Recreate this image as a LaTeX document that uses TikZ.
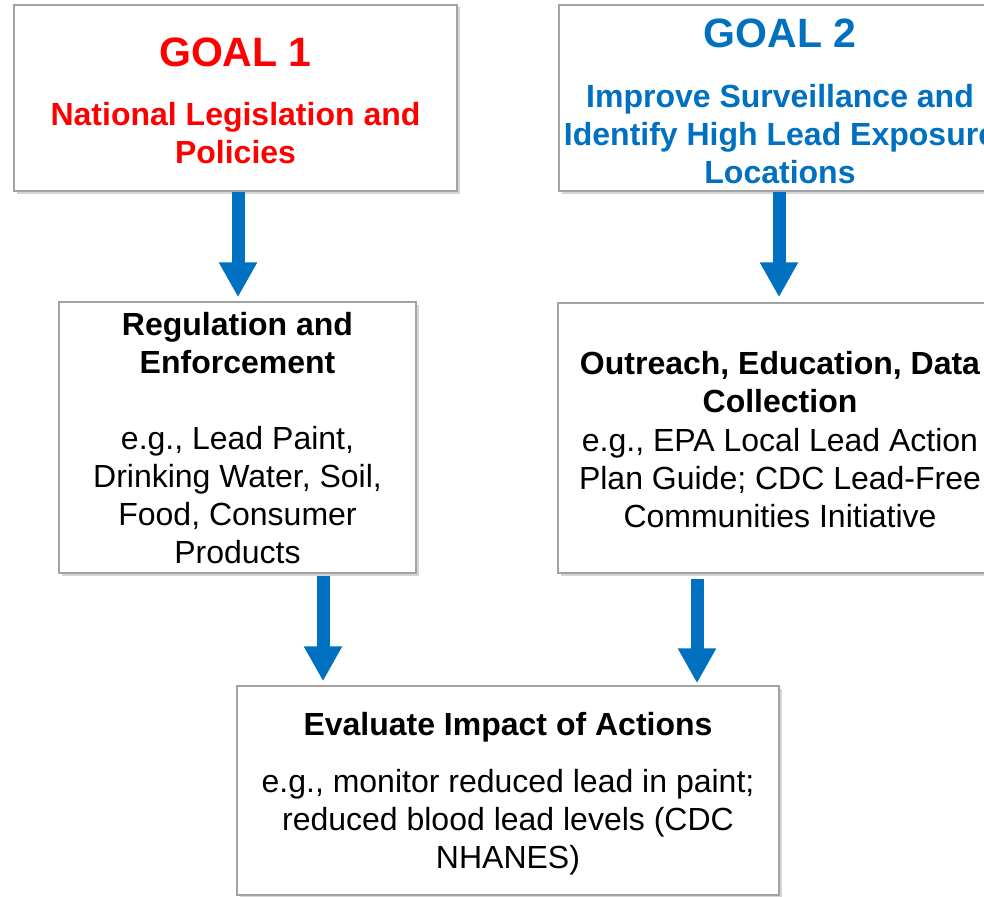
\documentclass[tikz,border=0pt]{standalone}
\usepackage{fontspec}
\setmainfont{Liberation Sans}
\usetikzlibrary{arrows.meta,shadows}

\definecolor{goalred}{HTML}{FF0000}
\definecolor{goalblue}{HTML}{0070C0}
\definecolor{boxgray}{HTML}{A3A3A3}

\tikzset{
  panel/.style={draw=boxgray, line width=1.5pt, fill=white, rectangle, inner sep=0pt,
    drop shadow={shadow xshift=2.5pt, shadow yshift=-2.5pt, opacity=0.3, fill=black!55}},
  goaltitle/.style={anchor=base, inner sep=0pt, font=\fontsize{41}{48}\selectfont\bfseries},
  % multi-line texts are placed by the baseline of their last line
  headtext/.style={anchor=base, inner sep=0pt, align=center, font=\fontsize{32}{38}\selectfont\bfseries},
  bodytext/.style={anchor=base, inner sep=0pt, align=center, font=\fontsize{32}{38}\selectfont},
  blockarrow/.style={draw=goalblue, line width=13pt,
    -{Triangle[width=36pt, length=35pt, fill=goalblue]}}
}

\begin{document}
\begin{tikzpicture}[x=1pt, y=-1pt]
  \useasboundingbox (0,0) rectangle (984,896);
  \clip (0,0) rectangle (984,896);

  % boxes
  \node[panel, minimum width=443pt, minimum height=186pt] (g1) at (235.5,98) {};
  \node[panel, minimum width=442pt, minimum height=186pt] (g2) at (780,98) {};
  \node[panel, minimum width=357pt, minimum height=271pt] (reg) at (237.5,437.5) {};
  \node[panel, minimum width=444pt, minimum height=270pt] (out) at (780,438) {};
  \node[panel, minimum width=542pt, minimum height=209pt] (eval) at (508,790.5) {};

  % goal 1
  \node[goaltitle, text=goalred] (g1title) at (235.5,67) {GOAL 1};
  \node[headtext, text=goalred] (g1text) at (235.5,164) {National Legislation and\\Policies};

  % goal 2
  \node[goaltitle, text=goalblue] (g2title) at (780,48) {GOAL 2};
  \node[headtext, text=goalblue] (g2text) at (780,183) {Improve Surveillance and\\Identify High Lead Exposure\\Locations};

  % regulation
  \node[headtext] (reghead) at (237.5,373) {Regulation and\\Enforcement};
  \node[bodytext] (regbody) at (237.5,563) {e.g., Lead Paint,\\Drinking Water, Soil,\\Food, Consumer\\Products};

  % outreach
  \node[headtext] (outhead) at (780,412) {Outreach, Education, Data\\Collection};
  \node[bodytext] (outbody) at (780,527) {e.g., EPA Local Lead Action\\Plan Guide; CDC Lead-Free\\Communities Initiative};

  % evaluation
  \node[headtext] (evalhead) at (508,735) {Evaluate Impact of Actions};
  \node[bodytext] (evalbody) at (508,868) {e.g., monitor reduced lead in paint;\\reduced blood lead levels (CDC\\NHANES)};

  % arrows
  \coordinate (c1) at (238,0);
  \coordinate (c2) at (779,0);
  \coordinate (c3) at (323,0);
  \coordinate (c4) at (697,0);
  \draw[blockarrow] (g1.south -| c1) -- ([yshift=4pt]reg.north -| c1);
  \draw[blockarrow] (g2.south -| c2) -- ([yshift=5pt]out.north -| c2);
  \draw[blockarrow] ([yshift=-2pt]reg.south -| c3) -- ([yshift=4pt]eval.north -| c3);
  \draw[blockarrow] ([yshift=-5pt]out.south -| c4) -- ([yshift=2pt]eval.north -| c4);
\end{tikzpicture}
\end{document}
